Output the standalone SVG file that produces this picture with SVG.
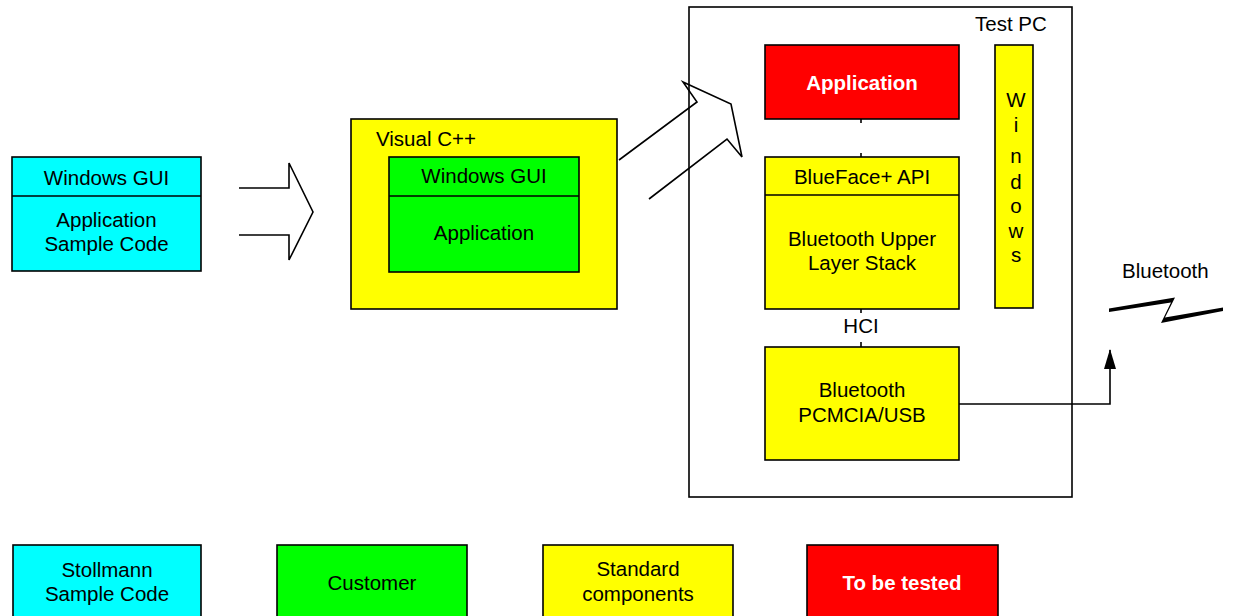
<svg xmlns="http://www.w3.org/2000/svg" width="1233" height="616" viewBox="0 0 1233 616">
<style>
  .box { stroke: #000; stroke-width: 1.6; }
  .cyan { fill: #00FFFF; }
  .green { fill: #00FF00; }
  .yellow { fill: #FFFF00; }
  .red { fill: #FF0000; }
  .line { fill: none; stroke: #000; stroke-width: 1.6; }
  text { font-family: "Liberation Sans", Arial, sans-serif; font-size: 20.5px; fill: #000; }
  .c { text-anchor: middle; }
  .bw { font-weight: bold; fill: #fff; }
</style>
<defs>
  <marker id="ah" viewBox="0 0 20 12" refX="19" refY="6" markerWidth="20" markerHeight="12" markerUnits="userSpaceOnUse" orient="auto">
    <path d="M0,0 L20,6 L0,12 Z" fill="#000"/>
  </marker>
</defs>

<g id="sample-code">
  <rect class="box cyan" x="12" y="157" width="189" height="114"/>
  <line class="line" x1="12" y1="196" x2="201" y2="196"/>
  <text class="c" x="106.5" y="185">Windows GUI</text>
  <text class="c" x="106.5" y="227">Application</text>
  <text class="c" x="106.5" y="251">Sample Code</text>
</g>

<g id="arrow-open">
  <path class="line" d="M239,188 L289,188 L289,163 L313,212 L289,260 L289,235 L239,235"/>
</g>

<g id="visual-cpp">
  <rect class="box yellow" x="351" y="119" width="266" height="190"/>
  <text x="376" y="146">Visual C++</text>
  <g id="customer-app">
    <rect class="box green" x="389" y="157" width="190" height="115"/>
    <line class="line" x1="389" y1="196" x2="579" y2="196"/>
    <text class="c" x="484" y="183">Windows GUI</text>
    <text class="c" x="484" y="240">Application</text>
  </g>
</g>

<g id="test-pc">
  <rect x="689" y="7" width="383" height="490" fill="#fff" stroke="#000" stroke-width="1.6"/>
  <text x="975" y="31">Test PC</text>
</g>

<g id="big-arrow">
  <path class="line" d="M619,160 L697,102 L683,82 L731,104 L742,157 L727,139 L649,199"/>
</g>

<g id="connectors">
  <line class="line" x1="861" y1="119" x2="861" y2="123"/>
  <line class="line" x1="861" y1="153" x2="861" y2="157"/>
  <line class="line" x1="861" y1="309" x2="861" y2="313"/>
  <line class="line" x1="861" y1="342" x2="861" y2="347"/>
  <path class="line" d="M959,404 L1110,404 L1110,350" marker-end="url(#ah)"/>
</g>

<g id="application">
  <rect class="box red" x="765" y="45" width="194" height="74"/>
  <text class="c bw" x="862" y="90">Application</text>
</g>

<g id="blueface">
  <rect class="box yellow" x="765" y="157" width="194" height="152"/>
  <line class="line" x1="765" y1="195" x2="959" y2="195"/>
  <text class="c" x="862" y="184">BlueFace+ API</text>
  <text class="c" x="862" y="246">Bluetooth Upper</text>
  <text class="c" x="862" y="270">Layer Stack</text>
</g>

<g id="windows">
  <rect class="box yellow" x="995" y="45" width="38" height="263"/>
  <text class="c" x="1016" y="107">W</text>
  <text class="c" x="1016" y="132">i</text>
  <text class="c" x="1016" y="163">n</text>
  <text class="c" x="1016" y="189">d</text>
  <text class="c" x="1016" y="213">o</text>
  <text class="c" x="1016" y="238">w</text>
  <text class="c" x="1016" y="262">s</text>
</g>

<g id="hci-label">
  <text class="c" x="861" y="333">HCI</text>
</g>

<g id="pcmcia">
  <rect class="box yellow" x="765" y="347" width="194" height="113"/>
  <text class="c" x="862" y="397">Bluetooth</text>
  <text class="c" x="862" y="422">PCMCIA/USB</text>
</g>

<g id="bluetooth-link">
  <text x="1122" y="278">Bluetooth</text>
  <polygon points="1109,308.5 1175,297.5 1165,317.5 1223,307.5 1223,311 1161,323 1171,302.5 1109,312" fill="#000"/>
</g>

<g id="legend-stollmann">
  <rect class="box cyan" x="13" y="545" width="188" height="80"/>
  <text class="c" x="107" y="577">Stollmann</text>
  <text class="c" x="107" y="601">Sample Code</text>
</g>
<g id="legend-customer">
  <rect class="box green" x="277" y="545" width="190" height="80"/>
  <text class="c" x="372" y="590">Customer</text>
</g>
<g id="legend-standard">
  <rect class="box yellow" x="543" y="545" width="190" height="80"/>
  <text class="c" x="638" y="576">Standard</text>
  <text class="c" x="638" y="601">components</text>
</g>
<g id="legend-tested">
  <rect class="box red" x="807" y="545" width="191" height="80"/>
  <text class="c bw" x="902" y="590">To be tested</text>
</g>
</svg>
